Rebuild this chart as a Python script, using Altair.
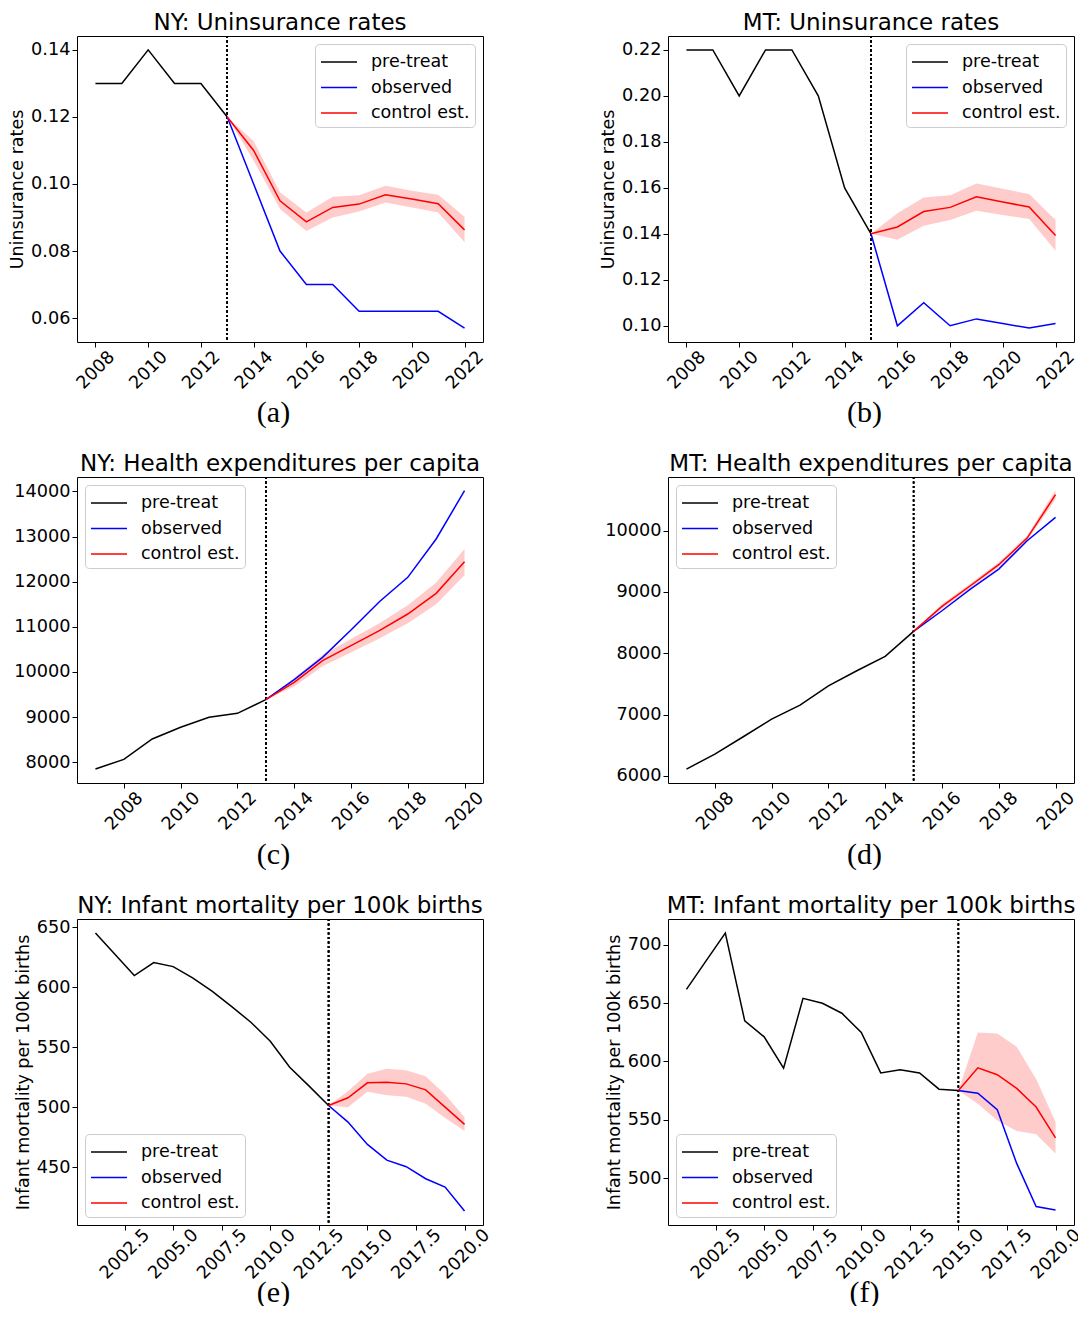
import altair as alt
import pandas as pd

SERIES = ["pre-treat", "observed", "control est."]
COLORS = ["black", "blue", "red"]

# ---- (a) NY uninsurance ----
a_pre_years = [2008, 2009, 2010, 2011, 2012, 2013]
a_pre = [0.13, 0.13, 0.14, 0.13, 0.13, 0.12]
a_post_years = [2013, 2014, 2015, 2016, 2017, 2018, 2019, 2020, 2021, 2022]
a_obs = [0.12, 0.10, 0.08, 0.07, 0.07, 0.062, 0.062, 0.062, 0.062, 0.057]
a_ctrl = [0.12, 0.110, 0.095, 0.0887, 0.093, 0.094, 0.0968, 0.0955, 0.0941, 0.0863]
a_lo = [0.12, 0.107, 0.0925, 0.086, 0.090, 0.0918, 0.0945, 0.093, 0.0915, 0.0826]
a_hi = [0.12, 0.1128, 0.0975, 0.0915, 0.0962, 0.0966, 0.0995, 0.098, 0.0968, 0.0902]

# ---- (b) MT uninsurance ----
b_pre_years = [2008, 2009, 2010, 2011, 2012, 2013, 2014, 2015]
b_pre = [0.22, 0.22, 0.20, 0.22, 0.22, 0.20, 0.16, 0.14]
b_post_years = [2015, 2016, 2017, 2018, 2019, 2020, 2021, 2022]
b_obs = [0.14, 0.10, 0.11, 0.10, 0.103, 0.101, 0.099, 0.101]
b_ctrl = [0.14, 0.143, 0.1497, 0.1515, 0.1561, 0.1538, 0.1517, 0.1393]
b_lo = [0.14, 0.1374, 0.1435, 0.146, 0.150, 0.1482, 0.1464, 0.1326]
b_hi = [0.14, 0.1489, 0.1558, 0.1568, 0.1619, 0.1596, 0.1573, 0.146]

# ---- (c) NY health expenditures ----
c_pre_years = [2007, 2008, 2009, 2010, 2011, 2012, 2013]
c_pre = [7852, 8066, 8517, 8775, 8996, 9085, 9387]
c_post_years = [2013, 2014, 2015, 2016, 2017, 2018, 2019, 2020]
c_obs = [9387, 9830, 10325, 10930, 11557, 12096, 12945, 14015]
c_ctrl = [9387, 9771, 10251, 10583, 10915, 11284, 11742, 12443]
c_lo = [9387, 9680, 10130, 10430, 10740, 11080, 11500, 12140]
c_hi = [9387, 9860, 10380, 10730, 11080, 11480, 11980, 12723]

# ---- (d) MT health expenditures ----
d_pre_years = [2007, 2008, 2009, 2010, 2011, 2012, 2013, 2014, 2015]
d_pre = [6109, 6354, 6637, 6925, 7154, 7469, 7714, 7948, 8357]
d_post_years = [2015, 2016, 2017, 2018, 2019, 2020]
d_obs = [8357, 8694, 9048, 9374, 9837, 10218]
d_ctrl = [8357, 8765, 9102, 9445, 9880, 10588]
d_lo = [8357, 8725, 9065, 9405, 9840, 10510]
d_hi = [8357, 8805, 9140, 9485, 9920, 10665]

# ---- (e) NY infant mortality ----
e_pre_years = list(range(2001, 2014))
e_pre = [645.3, 627.5, 609.7, 620.6, 617.2, 607.8, 596.7, 584.0, 570.8, 555.0, 533.3, 517.5, 501.4]
e_post_years = [2013, 2014, 2015, 2016, 2017, 2018, 2019, 2020]
e_obs = [501.4, 487.5, 468.9, 455.8, 450.3, 440.3, 433.3, 413.3]
e_ctrl = [501.4, 507.8, 520.3, 520.8, 519.4, 514.4, 500.0, 485.6]
e_lo = [501.4, 500.0, 512.8, 510.0, 508.6, 502.8, 491.0, 480.0]
e_hi = [501.4, 513.3, 527.8, 532.0, 530.8, 525.8, 510.6, 491.7]

# ---- (f) MT infant mortality ----
f_pre_years = list(range(2001, 2016))
f_pre = [661.7, 685.8, 709.9, 634.8, 621.1, 594.2, 654.0, 649.8, 641.3, 624.8, 590.2, 593.0, 590.2, 576.3, 575.2]
f_post_years = [2015, 2016, 2017, 2018, 2019, 2020]
f_obs = [575.2, 572.9, 558.7, 512.8, 475.9, 473.0]
f_ctrl = [575.2, 594.6, 588.7, 577.0, 561.0, 534.6]
f_lo = [575.2, 563.9, 549.6, 540.6, 537.7, 521.3]
f_hi = [575.2, 624.8, 624.0, 612.6, 585.1, 548.2]

FONT = "DejaVu Sans"
W, H = 406, 306


def panel(title, ytitle, caption, pre_years, pre, post_years, obs, ctrl, lo, hi,
          treat, xdom, xticks, xfmt, ydom, yticks, yfmt, legend_orient, label_pad, cap_y):
    lines = pd.concat([
        pd.DataFrame({"year": pre_years, "value": pre, "series": "pre-treat"}),
        pd.DataFrame({"year": post_years, "value": obs, "series": "observed"}),
        pd.DataFrame({"year": post_years, "value": ctrl, "series": "control est."}),
    ], ignore_index=True)
    band = pd.DataFrame({"year": post_years, "lo": lo, "hi": hi})

    xenc = alt.X("year:Q", scale=alt.Scale(domain=xdom, nice=False, zero=False),
                 axis=alt.Axis(values=xticks, format=xfmt, labelAngle=-45,
                               labelAlign="center", labelBaseline="middle",
                               labelPadding=label_pad, labelOverlap=False,
                               labelFlush=False, title=caption,
                               titleFont="Liberation Serif", titleFontSize=30,
                               titleFontWeight="normal", titleBaseline="middle",
                               titleAlign="center", titleX=W / 2 - 7, titleY=cap_y))
    yscale = alt.Scale(domain=ydom, nice=False, zero=False)
    yaxis = alt.Axis(values=yticks, format=yfmt, title=ytitle, titlePadding=4)

    area = alt.Chart(band).mark_area(color="red", opacity=0.2).encode(
        x=xenc, y=alt.Y("lo:Q", scale=yscale, axis=yaxis), y2="hi:Q")
    rule = alt.Chart(band).mark_rule(color="black", strokeDash=[2, 2.5], strokeWidth=1.4).encode(
        x=alt.datum(treat))
    line = alt.Chart(lines).mark_line(strokeWidth=1.5).encode(
        x=xenc,
        y=alt.Y("value:Q", scale=yscale, axis=yaxis),
        color=alt.Color("series:N", scale=alt.Scale(domain=SERIES, range=COLORS),
                        legend=alt.Legend(title=None, orient=legend_orient, offset=8,
                                          symbolType="M-1,0H2", symbolSize=576,
                                          symbolStrokeWidth=1.5, labelFontSize=17.5,
                                          labelFont=FONT, labelColor="black",
                                          labelOffset=25, rowPadding=3.5, padding=5,
                                          strokeColor="#cccccc", fillColor="white",
                                          cornerRadius=4)),
        order=alt.Order("year:Q"))
    return alt.layer(area, rule, line).properties(
        width=W, height=H,
        title=alt.TitleParams(title, fontSize=23, fontWeight="normal", font=FONT,
                              offset=0, anchor="middle", color="black"))


yr2 = [2008, 2010, 2012, 2014, 2016, 2018, 2020, 2022]
yr2b = [2008, 2010, 2012, 2014, 2016, 2018, 2020]
yr25 = [2002.5, 2005.0, 2007.5, 2010.0, 2012.5, 2015.0, 2017.5, 2020.0]

pa = panel("NY: Uninsurance rates", "Uninsurance rates", "(a)", a_pre_years, a_pre, a_post_years,
           a_obs, a_ctrl, a_lo, a_hi, 2013, [2007.3, 2022.7], yr2, "d",
           [0.05285, 0.14415], [0.06, 0.08, 0.10, 0.12, 0.14], ".2f", "top-right", 23, 70)
pb = panel("MT: Uninsurance rates", "Uninsurance rates", "(b)", b_pre_years, b_pre, b_post_years,
           b_obs, b_ctrl, b_lo, b_hi, 2015, [2007.3, 2022.7], yr2, "d",
           [0.09295, 0.22605], [0.10, 0.12, 0.14, 0.16, 0.18, 0.20, 0.22], ".2f", "top-right", 23, 70)
pc = panel("NY: Health expenditures per capita", None, "(c)", c_pre_years, c_pre, c_post_years,
           c_obs, c_ctrl, c_lo, c_hi, 2013, [2006.35, 2020.65], yr2b, "d",
           [7542, 14318], [8000, 9000, 10000, 11000, 12000, 13000, 14000], "d", "top-left", 23, 71)
pd_ = panel("MT: Health expenditures per capita", None, "(d)", d_pre_years, d_pre, d_post_years,
            d_obs, d_ctrl, d_lo, d_hi, 2015, [2006.35, 2020.65], yr2b, "d",
            [5882, 10877], [6000, 7000, 8000, 9000, 10000], "d", "top-left", 23, 71)
pe = panel("NY: Infant mortality per 100k births", "Infant mortality per 100k births", "(e)",
           e_pre_years, e_pre, e_post_years, e_obs, e_ctrl, e_lo, e_hi, 2013,
           [2000.05, 2020.95], yr25, ".1f", [401.7, 656.9], [450, 500, 550, 600, 650], "d",
           "bottom-left", 24, 67)
pf = panel("MT: Infant mortality per 100k births", "Infant mortality per 100k births", "(f)",
           f_pre_years, f_pre, f_post_years, f_obs, f_ctrl, f_lo, f_hi, 2015,
           [2000.05, 2020.95], yr25, ".1f", [460.1, 721.9], [500, 550, 600, 650, 700], "d",
           "bottom-left", 24, 67)

chart = alt.concat(pa, pb, pc, pd_, pe, pf, columns=2, spacing={"row": 24, "column": 105}).resolve_scale(
    color="independent", x="independent", y="independent"
).configure(padding={"left": 0, "top": 3, "right": -7, "bottom": -2}).configure_view(
    stroke="black", strokeWidth=1
).configure_axis(
    domain=False, grid=False, tickColor="black", tickSize=5, tickWidth=1,
    labelFont=FONT, labelFontSize=17.7, labelColor="black",
    titleFont=FONT, titleFontSize=17.5, titleFontWeight="normal", titleColor="black"
)

chart.save("out.html", embed_options={"renderer": "svg", "actions": False})
